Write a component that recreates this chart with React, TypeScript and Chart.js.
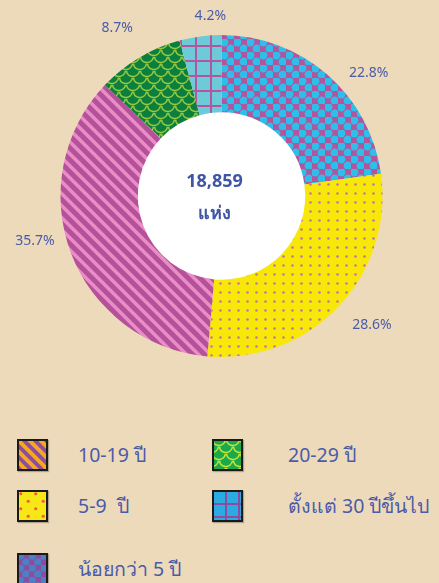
import React, { useEffect, useRef } from "react";
import { Chart, registerables } from "chart.js";
Chart.register(...registerables);

// ---- data ----
const categories = ["น้อยกว่า 5 ปี", "5-9  ปี", "10-19 ปี", "20-29 ปี", "ตั้งแต่ 30 ปีขึ้นไป"];
const shares = [22.8, 28.6, 35.7, 8.7, 4.2];
const shareLabels = ["22.8%", "28.6%", "35.7%", "8.7%", "4.2%"];
const totalLabel = "18,859";
const unitLabel = "แห่ง";

// ---- style ----
const BG = "#EDDABB";
const TEXT = "#4A5BA8";
const CENTER_TEXT = "#3F55A5";
const FONT = "'Noto Sans', 'DejaVu Sans', sans-serif";
const labelAngleNudge = [9, -3, 7, -1, 4];
const labelRadius = [192, 198, 192, 198, 180];

type PatSpec = { kind: string; base: string; fg: string; size: number; lw?: number };

const slicePatterns: PatSpec[] = [
  { kind: "circles", base: "#B4549D", fg: "#2BBFEA", size: 13 },
  { kind: "dots", base: "#F7E80A", fg: "#C772A6", size: 9 },
  { kind: "stripes", base: "#B5509A", fg: "#E98DC6", size: 12, lw: 3.5 },
  { kind: "scales", base: "#0C7F3E", fg: "#97C93D", size: 14 },
  { kind: "grid", base: "#6DCBD9", fg: "#B455A0", size: 15 },
];

const legendPatterns: PatSpec[] = [
  { kind: "circles", base: "#8E4C9E", fg: "#4C7FC4", size: 12 },
  { kind: "dots2", base: "#F7E716", fg: "#F25A3B", size: 15 },
  { kind: "stripes", base: "#8E4C9E", fg: "#F4A921", size: 11, lw: 4 },
  { kind: "scales", base: "#1BAA4B", fg: "#C6E33A", size: 14 },
  { kind: "grid", base: "#2AACE2", fg: "#8E4C9E", size: 13 },
];

function drawTile(ctx: CanvasRenderingContext2D, p: PatSpec) {
  const s = p.size;
  ctx.fillStyle = p.base;
  ctx.fillRect(0, 0, s, s);
  ctx.fillStyle = p.fg;
  ctx.strokeStyle = p.fg;
  if (p.kind === "circles") {
    ctx.beginPath();
    ctx.arc(s / 4, s / 4, s * 0.32, 0, Math.PI * 2);
    ctx.fill();
    ctx.beginPath();
    ctx.arc((3 * s) / 4, (3 * s) / 4, s * 0.32, 0, Math.PI * 2);
    ctx.fill();
  } else if (p.kind === "dots") {
    ctx.beginPath();
    ctx.arc(s / 2, s / 2, 1.3, 0, Math.PI * 2);
    ctx.fill();
  } else if (p.kind === "dots2") {
    ctx.beginPath();
    ctx.arc(s / 4, s / 4, 1.6, 0, Math.PI * 2);
    ctx.fill();
    ctx.beginPath();
    ctx.arc((3 * s) / 4, (3 * s) / 4, 1.6, 0, Math.PI * 2);
    ctx.fill();
  } else if (p.kind === "stripes") {
    ctx.lineWidth = p.lw || 3;
    for (const o of [-s, 0, s]) {
      ctx.beginPath();
      ctx.moveTo(o - 2, -2);
      ctx.lineTo(o + s + 2, s + 2);
      ctx.stroke();
    }
  } else if (p.kind === "scales") {
    ctx.lineWidth = 1.5;
    const r = s / 2;
    for (const [cx, cy] of [[r, 0], [0, r], [s, r], [r, s]]) {
      ctx.beginPath();
      ctx.arc(cx, cy, r - 0.5, 0.1, Math.PI - 0.1);
      ctx.stroke();
    }
  } else if (p.kind === "grid") {
    ctx.fillRect(0, 0, s, 2);
    ctx.fillRect(0, 0, 2, s);
  }
}

function makePattern(p: PatSpec): CanvasPattern | string {
  const c = document.createElement("canvas");
  c.width = p.size;
  c.height = p.size;
  const ctx = c.getContext("2d");
  if (!ctx) return p.base;
  drawTile(ctx, p);
  return ctx.createPattern(c, "repeat") || p.base;
}

const labelPlugin = {
  id: "outerLabels",
  afterDraw(chart: any) {
    const ctx = chart.ctx as CanvasRenderingContext2D;
    const meta = chart.getDatasetMeta(0);
    ctx.save();
    ctx.fillStyle = TEXT;
    ctx.font = `14px ${FONT}`;
    ctx.textAlign = "center";
    ctx.textBaseline = "middle";
    meta.data.forEach((arc: any, i: number) => {
      const mid = (arc.startAngle + arc.endAngle) / 2 + (labelAngleNudge[i] * Math.PI) / 180;
      const r = labelRadius[i];
      ctx.fillText(shareLabels[i], arc.x + Math.cos(mid) * r, arc.y + Math.sin(mid) * r);
    });
    const a0 = meta.data[0];
    if (a0) {
      ctx.fillStyle = CENTER_TEXT;
      ctx.font = `bold 18px ${FONT}`;
      ctx.fillText(totalLabel, a0.x - 7, a0.y - 14);
      ctx.fillText(unitLabel, a0.x - 7, a0.y + 18);
    }
    ctx.restore();
  },
};

const innerFillPlugin = {
  id: "innerFill",
  beforeDatasetsDraw(chart: any) {
    const meta = chart.getDatasetMeta(0);
    const a0 = meta.data[0];
    if (!a0) return;
    const ctx = chart.ctx as CanvasRenderingContext2D;
    ctx.save();
    ctx.fillStyle = "#FFFFFF";
    ctx.beginPath();
    ctx.arc(a0.x, a0.y, a0.innerRadius + 1, 0, Math.PI * 2);
    ctx.fill();
    ctx.restore();
  },
};

function Swatch({ spec }: { spec: PatSpec }) {
  const ref = useRef<HTMLCanvasElement>(null);
  useEffect(() => {
    const c = ref.current;
    if (!c) return;
    const ctx = c.getContext("2d");
    if (!ctx) return;
    ctx.fillStyle = makePattern(spec) as any;
    ctx.fillRect(0, 0, c.width, c.height);
    ctx.strokeStyle = "#1a1a1a";
    ctx.lineWidth = 2;
    ctx.strokeRect(1, 1, c.width - 2, c.height - 2);
  }, [spec]);
  return (
    <canvas
      ref={ref}
      width={31}
      height={32}
      style={{ display: "block", boxShadow: "1px 1px 1px rgba(0,0,0,0.25)" }}
    />
  );
}

const legendSlots = [
  { idx: 2, col: 0, top: 439 },
  { idx: 3, col: 1, top: 439 },
  { idx: 1, col: 0, top: 490 },
  { idx: 4, col: 1, top: 490 },
  { idx: 0, col: 0, top: 553 },
];
const colX = [{ sw: 17, tx: 78 }, { sw: 212, tx: 288 }];

export default function App() {
  const canvasRef = useRef<HTMLCanvasElement>(null);
  useEffect(() => {
    const canvas = canvasRef.current;
    if (!canvas) return;
    const chart = new Chart(canvas, {
      type: "doughnut",
      data: {
        labels: categories,
        datasets: [
          {
            data: shares,
            backgroundColor: slicePatterns.map(makePattern) as any,
            borderWidth: 0,
          },
        ],
      },
      options: {
        animation: false,
        responsive: false,
        maintainAspectRatio: false,
        cutout: "52%",
        rotation: 0,
        layout: { padding: { top: 35, bottom: 35, left: 4, right: 0 } },
        plugins: {
          legend: { display: false },
          tooltip: { enabled: false },
        },
      },
      plugins: [innerFillPlugin, labelPlugin],
    });
    return () => chart.destroy();
  }, []);

  return (
    <div
      style={{
        position: "absolute",
        left: 0,
        top: 0,
        width: 439,
        height: 583,
        background: BG,
        overflow: "hidden",
        fontFamily: FONT,
      }}
    >
      <canvas ref={canvasRef} width={439} height={392} style={{ position: "absolute", left: 0, top: 0 }} />
      {legendSlots.map((s) => (
        <React.Fragment key={s.idx}>
          <div style={{ position: "absolute", left: colX[s.col].sw, top: s.top }}>
            <Swatch spec={legendPatterns[s.idx]} />
          </div>
          <div
            style={{
              position: "absolute",
              left: colX[s.col].tx,
              top: s.top + 16,
              transform: "translateY(-50%)",
              fontSize: 19.5,
              color: TEXT,
              whiteSpace: "pre",
              lineHeight: "26px",
            }}
          >
            {categories[s.idx]}
          </div>
        </React.Fragment>
      ))}
    </div>
  );
}
